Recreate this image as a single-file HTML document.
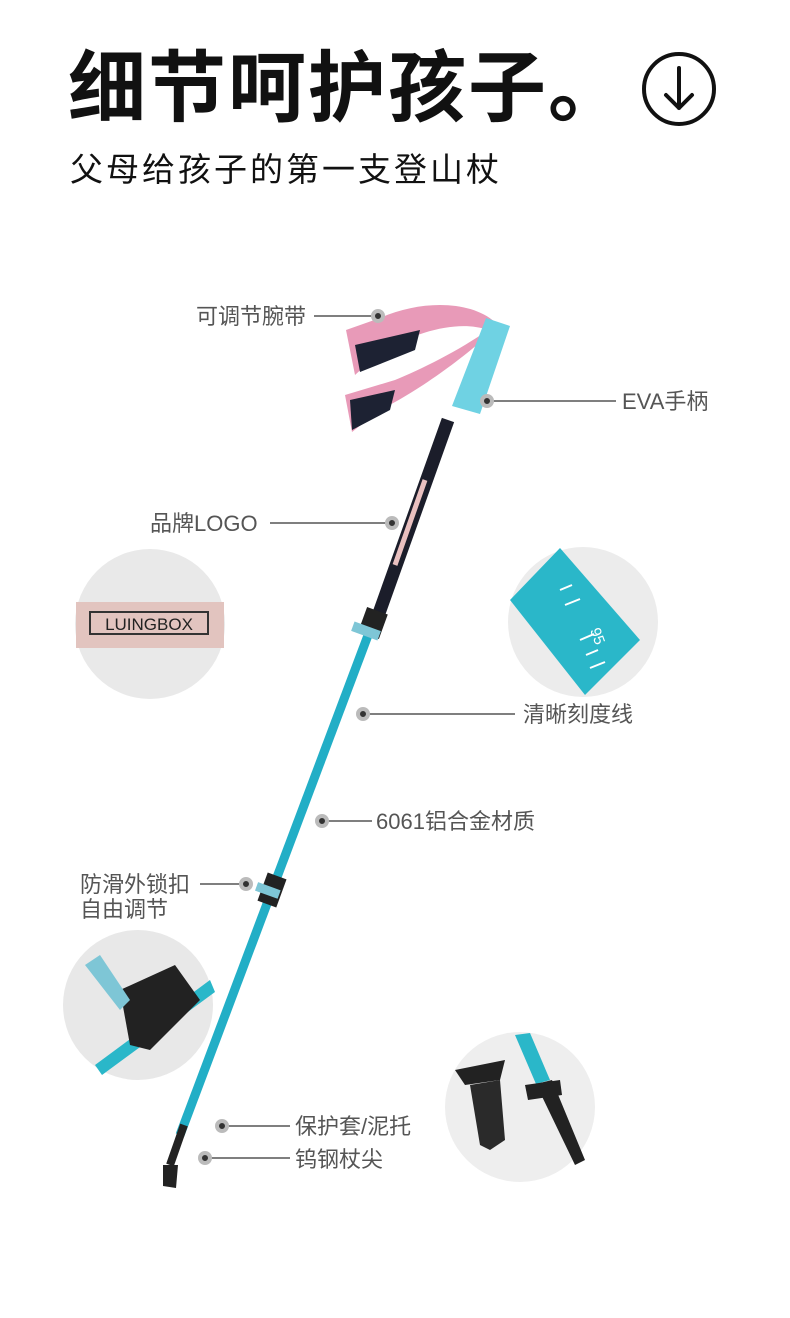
<!DOCTYPE html>
<html><head><meta charset="utf-8"><style>
html,body{margin:0;padding:0;background:#fff;}
body{width:790px;height:1318px;position:relative;overflow:hidden;font-family:"Liberation Sans","Noto Sans CJK SC",sans-serif;}
.t{position:absolute;white-space:nowrap;}
.lb{font-size:22px;color:#555;line-height:25px;}
</style></head><body>
<div class="t" style="left:68px;top:40px;font-size:78px;font-weight:bold;color:#111;letter-spacing:2px;line-height:96px;">细节呵护孩子。</div>
<div class="t" style="left:70px;top:150px;font-size:33px;color:#111;letter-spacing:3px;line-height:40px;">父母给孩子的第一支登山杖</div>
<svg width="790" height="1318" style="position:absolute;left:0;top:0">
<circle cx="679" cy="89" r="35" fill="none" stroke="#111" stroke-width="4"/>
<path d="M679 68 V108 M666 95 L679 108 L692 95" fill="none" stroke="#111" stroke-width="4" stroke-linecap="round" stroke-linejoin="round"/>
<circle cx="150" cy="624" r="75" fill="#e9e9e9"/>
<rect x="76" y="602" width="148" height="46" fill="#e2c4bf"/>
<rect x="90" y="612" width="118" height="22" fill="none" stroke="#333" stroke-width="2"/>
<text x="149" y="630" font-size="17" text-anchor="middle" fill="#222" font-family="Liberation Sans">LUINGBOX</text>
<circle cx="583" cy="622" r="75" fill="#ececec"/>
<path d="M510 600 L560 548 L640 640 L585 695 Z" fill="#2ab7c9"/>
<path d="M560 590 l12 -5 M565 605 l15 -6 M580 640 l14 -6 M586 655 l12 -5 M590 668 l15 -6" stroke="#fff" stroke-width="2"/>
<text x="590" y="630" font-size="15" fill="#fff" transform="rotate(70 590 630)" font-family="Liberation Sans">95</text>
<circle cx="138" cy="1005" r="75" fill="#e8e8e8"/>
<path d="M95 1065 L210 980 L215 992 L102 1075 Z" fill="#2ab7c9"/>
<path d="M120 990 L175 965 L200 1000 L150 1050 L130 1045 Z" fill="#222"/>
<path d="M85 965 L100 955 L130 1000 L120 1010 Z" fill="#7ec6d6"/>
<circle cx="520" cy="1107" r="75" fill="#eeeeee"/>
<path d="M515 1035 L530 1033 L550 1080 L536 1084 Z" fill="#2ab7c9"/>
<path d="M536 1084 L552 1080 L585 1160 L575 1165 Z" fill="#222"/>
<path d="M525 1085 L560 1080 L562 1095 L528 1100 Z" fill="#222"/>
<path d="M455 1070 L505 1060 L500 1080 L465 1085 Z" fill="#222"/>
<path d="M470 1085 L500 1080 L505 1140 L490 1150 L480 1145 Z" fill="#2a2a2a"/>
<path d="M495 322 C470 300 420 300 380 318 L346 330 L355 375 L380 352 C420 330 460 320 488 330 Z" fill="#e89ab8"/>
<path d="M355 345 L420 330 L415 350 L360 372 Z" fill="#1d2233"/>
<path d="M488 330 C460 350 420 370 395 380 L345 395 L352 432 L380 410 C420 390 460 360 485 338 Z" fill="#e89ab8"/>
<path d="M350 400 L395 390 L390 410 L352 430 Z" fill="#1d2233"/>
<line x1="448" y1="420" x2="378" y2="616" stroke="#1b1d2a" stroke-width="13"/>
<line x1="425" y1="480" x2="395" y2="565" stroke="#e9c0c0" stroke-width="5"/>
<line x1="370" y1="630" x2="180" y2="1135" stroke="#22aec6" stroke-width="9"/>
<line x1="184" y1="1125" x2="170" y2="1165" stroke="#222" stroke-width="8"/>
<path d="M163 1165 L178 1165 L176 1188 L163 1186 Z" fill="#222"/>
<path d="M486 318 L510 326 L480 414 L452 406 Z" fill="#6fd2e3"/>
<rect x="362" y="610" width="22" height="26" fill="#222" transform="rotate(20 373 623)"/>
<rect x="352" y="626" width="28" height="10" fill="#7ec6d6" transform="rotate(20 366 631)"/>
<rect x="262" y="875" width="20" height="30" fill="#222" transform="rotate(20 272 890)"/>
<rect x="256" y="886" width="24" height="9" fill="#7ec6d6" transform="rotate(20 268 890)"/>
<g stroke="#333" stroke-width="1.3">
<line x1="314" y1="316" x2="378" y2="316"/>
<line x1="487" y1="401" x2="616" y2="401"/>
<line x1="270" y1="523" x2="392" y2="523"/>
<line x1="363" y1="714" x2="515" y2="714"/>
<line x1="322" y1="821" x2="372" y2="821"/>
<line x1="200" y1="884" x2="246" y2="884"/>
<line x1="222" y1="1126" x2="290" y2="1126"/>
<line x1="205" y1="1158" x2="290" y2="1158"/>
</g>
<g fill="#333" stroke="#bbb" stroke-width="4">
<circle cx="378" cy="316" r="5"/><circle cx="487" cy="401" r="5"/><circle cx="392" cy="523" r="5"/>
<circle cx="363" cy="714" r="5"/><circle cx="322" cy="821" r="5"/><circle cx="246" cy="884" r="5"/>
<circle cx="222" cy="1126" r="5"/><circle cx="205" cy="1158" r="5"/>
</g>
</svg>
<div class="t lb" style="left:196px;top:304px;">可调节腕带</div>
<div class="t lb" style="left:622px;top:389px;">EVA手柄</div>
<div class="t lb" style="left:150px;top:511px;">品牌LOGO</div>
<div class="t lb" style="left:523px;top:702px;">清晰刻度线</div>
<div class="t lb" style="left:376px;top:809px;">6061铝合金材质</div>
<div class="t lb" style="left:80px;top:872px;">防滑外锁扣<br>自由调节</div>
<div class="t lb" style="left:295px;top:1114px;">保护套/泥托</div>
<div class="t lb" style="left:295px;top:1147px;">钨钢杖尖</div>
</body></html>
